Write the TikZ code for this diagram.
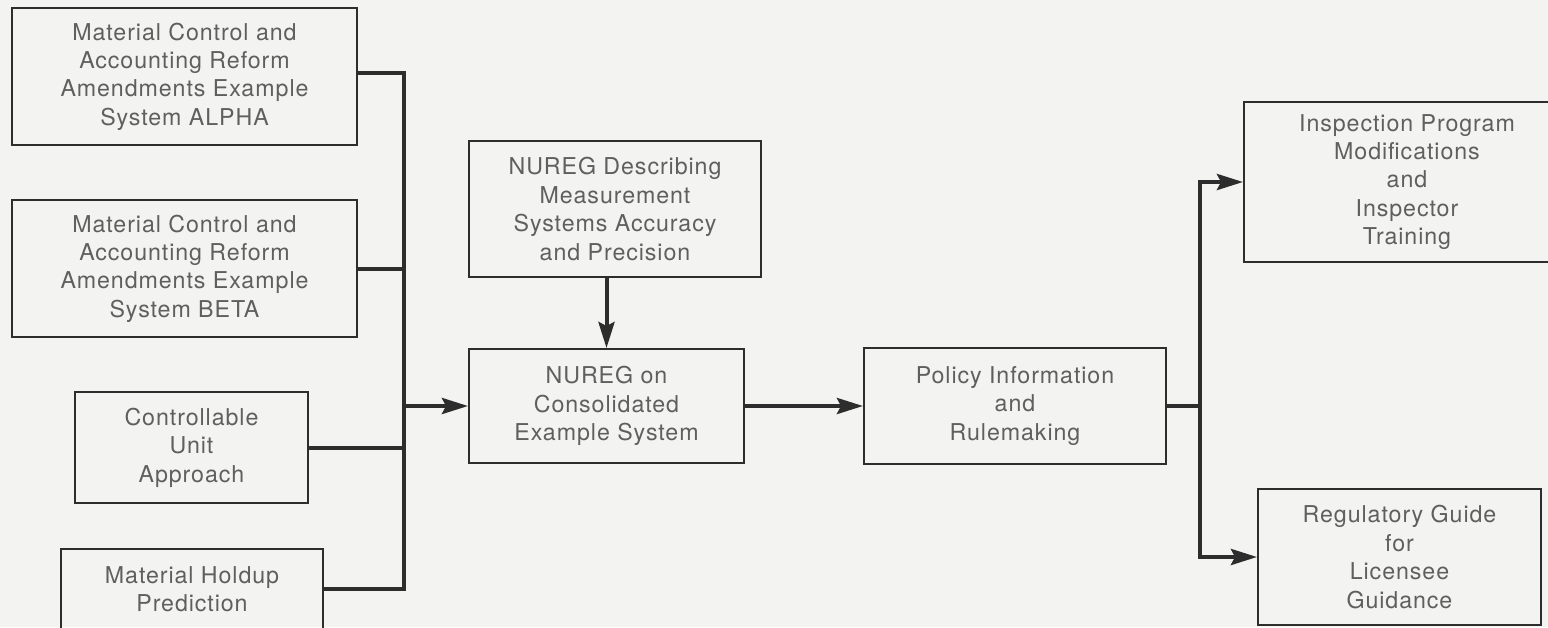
\documentclass[tikz,border=0pt]{standalone}
\usepackage{fontspec}
\newfontfamily\boxfont{TeX Gyre Heros}[LetterSpace=4]
\usetikzlibrary{arrows.meta,positioning}
\definecolor{paper}{RGB}{243,243,241}
\definecolor{ink}{RGB}{45,45,45}
\definecolor{print}{RGB}{95,95,95}

\begin{document}
\begin{tikzpicture}[x=0.5pt,y=-0.5pt,>={Stealth[length=13pt,width=8pt,inset=2pt]},
  b/.style={draw=ink,line width=1pt,align=center,inner sep=0pt,text=print,
            font=\boxfont\fontsize{11.6}{14.2}\selectfont},
  link/.style={draw=ink,line width=2pt,line join=miter}]
  \useasboundingbox (0,0) rectangle (1548,627);
  \fill[paper] (0,0) rectangle (1548,627);
  \clip (0,0) rectangle (1548,627);
  % example systems feeding the consolidated NUREG
  \node[b,minimum width=172.5pt,minimum height=68.5pt] (alpha) at (184.5,76.5)
       {Material Control and\\Accounting Reform\\Amendments Example\\System ALPHA};
  \node[b,minimum width=172.5pt,minimum height=68.5pt,below=26.5pt of alpha] (beta)
       {Material Control and\\Accounting Reform\\Amendments Example\\System BETA};
  \node[b,minimum width=116.5pt,minimum height=55.5pt] (cua) at (191.5,447.5)
       {Controllable\\Unit\\Approach};
  \node[b,minimum width=131pt,minimum height=40pt] (holdup) at (192,589)
       {Material Holdup\\Prediction};
  \node[b,minimum width=137.5pt,minimum height=57pt] (cons) at (606.5,406)
       {NUREG on\\Consolidated\\Example System};
  \node[b,minimum width=146pt,minimum height=68pt,above=35pt of cons,xshift=4.25pt] (desc)
       {NUREG Describing\\Measurement\\Systems Accuracy\\and Precision};
  \node[b,minimum width=151pt,minimum height=58pt,right=59pt of cons] (policy)
       {Policy Information\\and\\Rulemaking};
  \node[b,minimum width=163pt,minimum height=80pt] (insp) at (1407,182)
       {Inspection Program\\Modifications\\and\\Inspector\\Training};
  \node[b,minimum width=141.5pt,minimum height=68pt] (reg) at (1399.5,557)
       {Regulatory Guide\\for\\Licensee\\Guidance};
  \coordinate (lbus) at (404,0);
  \coordinate (rbus) at (1200,0);
  \draw[link] ([yshift=2pt]alpha.east) -| (lbus |- holdup.east) -- (holdup.east);
  \draw[link] (beta.east) -- (beta.east -| lbus);
  \draw[link] (cua.east) -- (cua.east -| lbus);
  \draw[link,->] (lbus |- cons.west) -- (cons.west);
  \draw[link,->] (cons.north |- desc.south) -- (cons.north);
  \draw[link,->] (cons) -- (policy);
  \draw[link] (policy.east) -- (rbus |- policy.east);
  \draw[link,->] (rbus |- policy.east) |- (insp.west);
  \draw[link,->] (rbus |- policy.east) |- (reg.west);
\end{tikzpicture}
\end{document}
